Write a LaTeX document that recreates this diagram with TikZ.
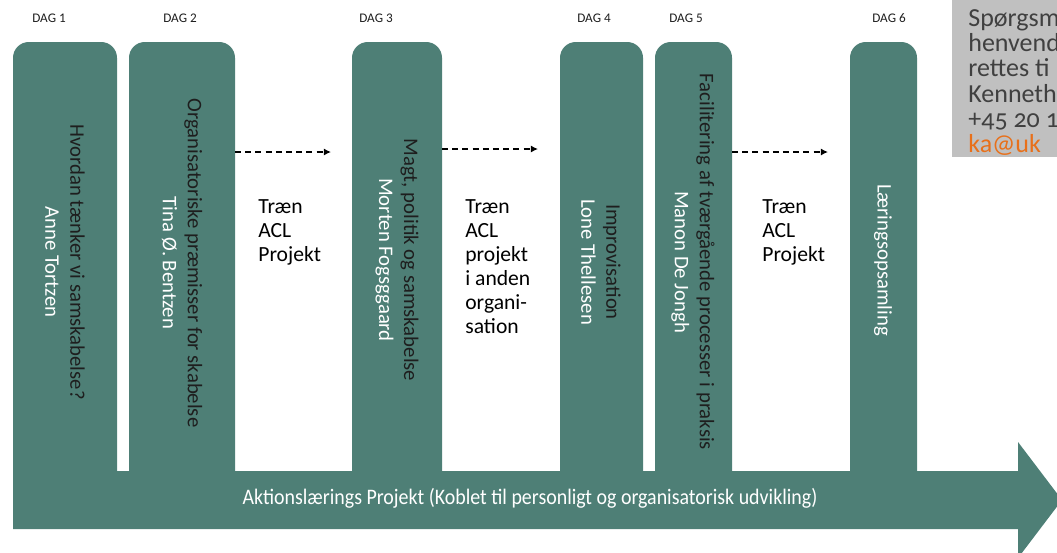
\documentclass[tikz,border=0pt]{standalone}
\usepackage{fontspec}
\setmainfont{Carlito}
\newfontfamily\bandfont[FakeStretch=0.9]{Carlito}
\newfontfamily\boxfont[Numbers=OldStyle]{Carlito}
\usetikzlibrary{arrows.meta}
\definecolor{ink}{HTML}{1E1E1E}
\definecolor{daygreen}{HTML}{4E7F76}
\definecolor{boxgrey}{HTML}{C0C0C0}
\definecolor{boxink}{HTML}{404040}
\definecolor{mailorange}{HTML}{E8701A}

\tikzset{
  daylabel/.style={font=\fontsize{7.5}{9}\selectfont, color=ink},
  coltext/.style={rotate=-90, align=center, font=\fontsize{11.8}{14.2}\selectfont, color=ink},
  traen/.style={anchor=north west, align=left, font=\fontsize{12.3}{13.7}\selectfont, color=black, inner sep=0pt},
  flow/.style={dash pattern=on 3.4pt off 2.4pt, line width=0.8pt, -{Latex[length=4pt,width=4pt]}}
}

\begin{document}
\begin{tikzpicture}[x=0.02cm,y=-0.02cm]
  \useasboundingbox (0,0) rectangle (1057,552);
  \clip (0,0) rectangle (1057,552);
  % day columns
  \foreach \xa/\xb in {13/117,129/235,352/442,560/643,655/732,850/917}
    \fill[daygreen] (\xa,471) [rounded corners=9pt] -- (\xa,42) -- (\xb,42) [sharp corners] -- (\xb,471) -- cycle;
  % big arrow
  \fill[daygreen] (13,471) -- (1018,471) -- (1018,442) -- (1062,500) -- (1018,558) -- (1018,529) -- (13,529) -- cycle;
  \node[font={\bandfont\fontsize{12.6}{14}\selectfont}, color=white] (band) at (530,498) {Aktionslærings Projekt (Koblet til personligt og organisatorisk udvikling)};

  \node[daylabel] (dag1) at (49,18) {DAG 1};
  \node[daylabel] (dag2) at (180,18) {DAG 2};
  \node[daylabel] (dag3) at (376,18) {DAG 3};
  \node[daylabel] (dag4) at (594,18) {DAG 4};
  \node[daylabel] (dag5) at (686,18) {DAG 5};
  \node[daylabel] (dag6) at (889,18) {DAG 6};

  \node[coltext] (dag1text) at (65,262) {Hvordan tænker vi samskabelse?\\\textcolor{white}{Anne Tortzen}};
  \node[coltext] (dag2text) at (182,263) {Organisatoriske præmisser for skabelse\\\textcolor{white}{Tina Ø. Bentzen}};
  \node[coltext] (dag3text) at (397,260) {Magt, politik og samskabelse\\\textcolor{white}{Morten Fogsggaard}};
  \node[coltext] (dag4text) at (601,262) {Improvisation\\\textcolor{white}{Lone Thellesen}};
  \node[coltext] (dag5text) at (693,262) {Facilitering af tværgående processer i praksis\\\textcolor{white}{Manon De Jongh}};
  \node[coltext, color=white] (dag6text) at (883,260) {Læringsopsamling};

  \node[traen] (traen1) at (258,199) {Træn\\ACL\\Projekt};
  \node[traen] (traen2) at (465,199) {Træn\\ACL\\projekt\\i anden\\organi-\\sation};
  \node[traen] (traen3) at (762,199) {Træn\\ACL\\Projekt};

  % dashed links
  \coordinate (from2) at (235,152);
  \coordinate (to2) at (331,152);
  \coordinate (from3) at (442,149);
  \coordinate (to3) at (538,149);
  \coordinate (from5) at (732,152);
  \coordinate (to5) at (828,152);
  \draw[flow] (from2) -- (to2);
  \draw[flow] (from3) -- (to3);
  \draw[flow] (from5) -- (to5);

  % contact box
  \fill[boxgrey] (952,0) rectangle (1057,157);
  \node[anchor=north west, align=left, font={\boxfont\fontsize{14.8}{14.4}\selectfont}, color=boxink, inner sep=0pt] (contact) at (968,9) {Spørgsm\\henvend\\rettes ti\\Kenneth\\+45 20 1\\\textcolor{mailorange}{ka@uk}};
\end{tikzpicture}
\end{document}
